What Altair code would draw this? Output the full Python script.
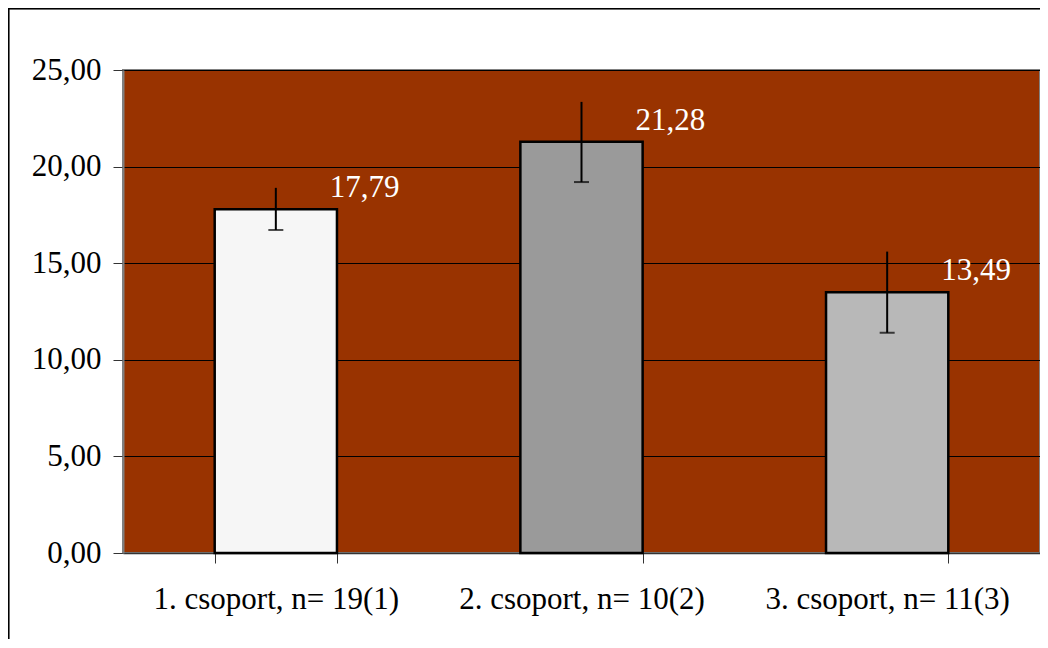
import altair as alt
import pandas as pd

categories = ["1. csoport, n= 19(1)", "2. csoport, n= 10(2)", "3. csoport, n= 11(3)"]
means = [17.79, 21.28, 13.49]
err_low = [16.72, 19.20, 11.40]
err_high = [18.90, 23.35, 15.60]
value_labels = ["17,79", "21,28", "13,49"]

df = pd.DataFrame({
    "cat": categories,
    "mean": means,
    "lo": err_low,
    "hi": err_high,
    "lab": value_labels,
})

FONT = "'Times New Roman', 'Liberation Serif', 'DejaVu Serif', serif"
W, H = 917, 483
yscale = alt.Scale(domain=[0, 25], nice=False, zero=True)

x_enc = alt.X("cat:N", sort=categories,
              scale=alt.Scale(paddingInner=0.6, paddingOuter=0.3),
              axis=alt.Axis(title=None, labelAngle=0, tickBand="extent",
                            tickSize=10, tickColor="#333333", tickWidth=1,
                            domainColor="#333333", domainWidth=1.5,
                            labelFont=FONT, labelFontSize=31, labelColor="black",
                            labelLimit=0, labelPadding=21, grid=False))

bars = alt.Chart(df).mark_bar(stroke="black", strokeWidth=2.5).encode(
    x=x_enc,
    y=alt.Y("mean:Q", scale=yscale,
            axis=alt.Axis(title=None, values=[0, 5, 10, 15, 20, 25],
                          labelExpr="replace(format(datum.value, '.2f'), '.', ',')",
                          labelFont=FONT, labelFontSize=31, labelColor="black",
                          tickSize=10, tickColor="#333333", tickWidth=1,
                          labelPadding=12, domainColor="#808080", domainWidth=2,
                          grid=True, gridColor="black", gridWidth=1, gridOpacity=1)),
    fill=alt.Fill("cat:N", sort=categories, legend=None,
                  scale=alt.Scale(domain=categories,
                                  range=["#f6f6f6", "#9a9a9a", "#b8b8b8"])),
)

rules = alt.Chart(df).mark_rule(color="black", strokeWidth=2).encode(
    x=alt.X("cat:N", sort=categories),
    y=alt.Y("lo:Q", scale=yscale),
    y2="hi:Q",
)

caps = alt.Chart(df).mark_tick(color="black", size=15, thickness=2).encode(
    x=alt.X("cat:N", sort=categories),
    y=alt.Y("lo:Q", scale=yscale),
)

labels = alt.Chart(df).mark_text(color="white", font=FONT, fontSize=31,
                                 align="left", baseline="middle",
                                 dx=54, dy=-21).encode(
    x=alt.X("cat:N", sort=categories),
    y=alt.Y("mean:Q", scale=yscale),
    text="lab:N",
)

frame = alt.Chart(df).mark_rect(fill=None, stroke="black", strokeWidth=1.5).encode(
    x=alt.value(-114.5), x2=alt.value(W + 60),
    y=alt.value(-61.5), y2=alt.value(H + 200),
)

chart = alt.layer(bars, rules, caps, labels, frame).resolve_scale(fill="independent").properties(
    width=W, height=H,
    autosize=alt.AutoSizeParams(type="none"),
    padding={"left": 115, "top": 62, "right": 0, "bottom": 86},
    background="white",
).configure_view(
    fill="#993300", stroke="#808080", strokeWidth=2,
)

chart.save("out.html", embed_options={"renderer": "svg", "actions": False})
